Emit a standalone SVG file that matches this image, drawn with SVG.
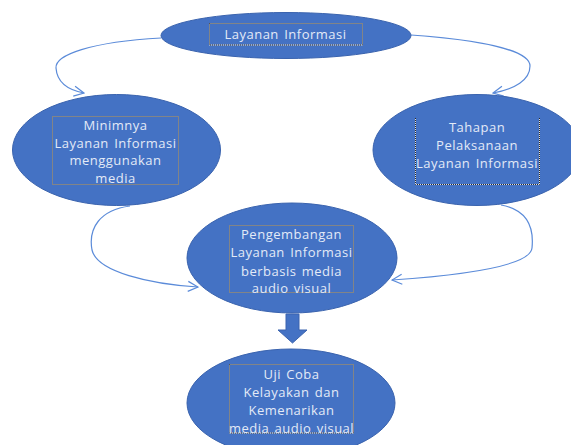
<svg xmlns="http://www.w3.org/2000/svg" width="571" height="445" viewBox="0 0 571 445">
<defs>
<style>
.node{fill:#4472C4;stroke:#3A63AE;stroke-width:1}
.boxw{fill:none;stroke:#d8dde6;stroke-width:1}
.box{fill:none;stroke:#2a2a2a;stroke-width:1;stroke-dasharray:1 1}
.t{font-family:"Open Sans","Liberation Sans",sans-serif;font-size:13px;letter-spacing:0.5px;word-spacing:1.5px;fill:#E3EAF7;text-anchor:middle;dominant-baseline:central}
.conn{fill:none;stroke:#5B8BD9;stroke-width:1.2}
</style>
<marker id="arr" viewBox="0 0 12 12" refX="11" refY="6" markerWidth="12" markerHeight="12" markerUnits="userSpaceOnUse" orient="auto">
<path d="M1,1 L11,6 L1,11" fill="none" stroke="#5B8BD9" stroke-width="1.2"/>
</marker>
</defs>
<rect width="571" height="445" fill="#ffffff"/>
<g id="connectors">
<path class="conn" d="M161,38 C90,42 55,55 56,68 C57,82 68,90 84,93" marker-end="url(#arr)"/>
<path class="conn" d="M411,35 C480,40 530,50 530,66 C530,80 515,89 493,93" marker-end="url(#arr)"/>
<path class="conn" d="M130,206 C100,210 88,228 92,250 C97,272 150,284 198,287" marker-end="url(#arr)"/>
<path class="conn" d="M501,205 C528,210 534,228 532,248 C530,268 450,276 392,280" marker-end="url(#arr)"/>
<path d="M286,314 L299,314 L299,330 L307,330 L292.5,343 L278,330 L286,330 Z" fill="#4472C4" stroke="#3A63AE" stroke-width="1"/>
</g>
<g id="node-top">
<ellipse class="node" cx="286" cy="35.5" rx="125" ry="23"/>
<rect class="boxw" x="209.5" y="23.5" width="153" height="21.5"/>
<rect class="box" x="209.5" y="23.5" width="153" height="21.5"/>
<text class="t" x="285.5" y="34">Layanan Informasi</text>
</g>
<g id="node-left">
<ellipse class="node" cx="116.5" cy="150" rx="104" ry="55.5"/>
<rect class="boxw" x="52.5" y="116.5" width="126" height="68"/>
<rect class="box" x="52.5" y="116.5" width="126" height="68"/>
<text class="t" x="115.5" y="125">Minimnya</text>
<text class="t" x="115.5" y="142.5">Layanan Informasi</text>
<text class="t" x="115.5" y="160">menggunakan</text>
<text class="t" x="115.5" y="177.5">media</text>
</g>
<g id="node-right">
<ellipse class="node" cx="477" cy="150" rx="104" ry="55.5"/>
<path class="boxw" d="M415.5,118 V184.5 H539.5 V118"/>
<path class="box" d="M415.5,118 V184.5 H539.5 V118"/>
<text class="t" x="477" y="127">Tahapan</text>
<text class="t" x="477" y="145">Pelaksanaan</text>
<text class="t" x="477" y="163">Layanan Informasi</text>
</g>
<g id="node-middle">
<ellipse class="node" cx="292" cy="258" rx="105" ry="55"/>
<rect class="boxw" x="229.5" y="225.5" width="124" height="67"/>
<rect class="box" x="229.5" y="225.5" width="124" height="67"/>
<text class="t" x="291.5" y="234">Pengembangan</text>
<text class="t" x="291.5" y="252">Layanan Informasi</text>
<text class="t" x="291.5" y="270.5">berbasis media</text>
<text class="t" x="291.5" y="288">audio visual</text>
</g>
<g id="node-bottom">
<ellipse class="node" cx="291" cy="403" rx="104" ry="54"/>
<rect class="boxw" x="229.5" y="364.5" width="124" height="68.5"/>
<rect class="box" x="229.5" y="364.5" width="124" height="68.5"/>
<text class="t" x="291.5" y="373.5">Uji Coba</text>
<text class="t" x="291.5" y="392">Kelayakan dan</text>
<text class="t" x="291.5" y="410">Kemenarikan</text>
<text class="t" x="291.5" y="427.5">media audio visual</text>
</g>
</svg>
